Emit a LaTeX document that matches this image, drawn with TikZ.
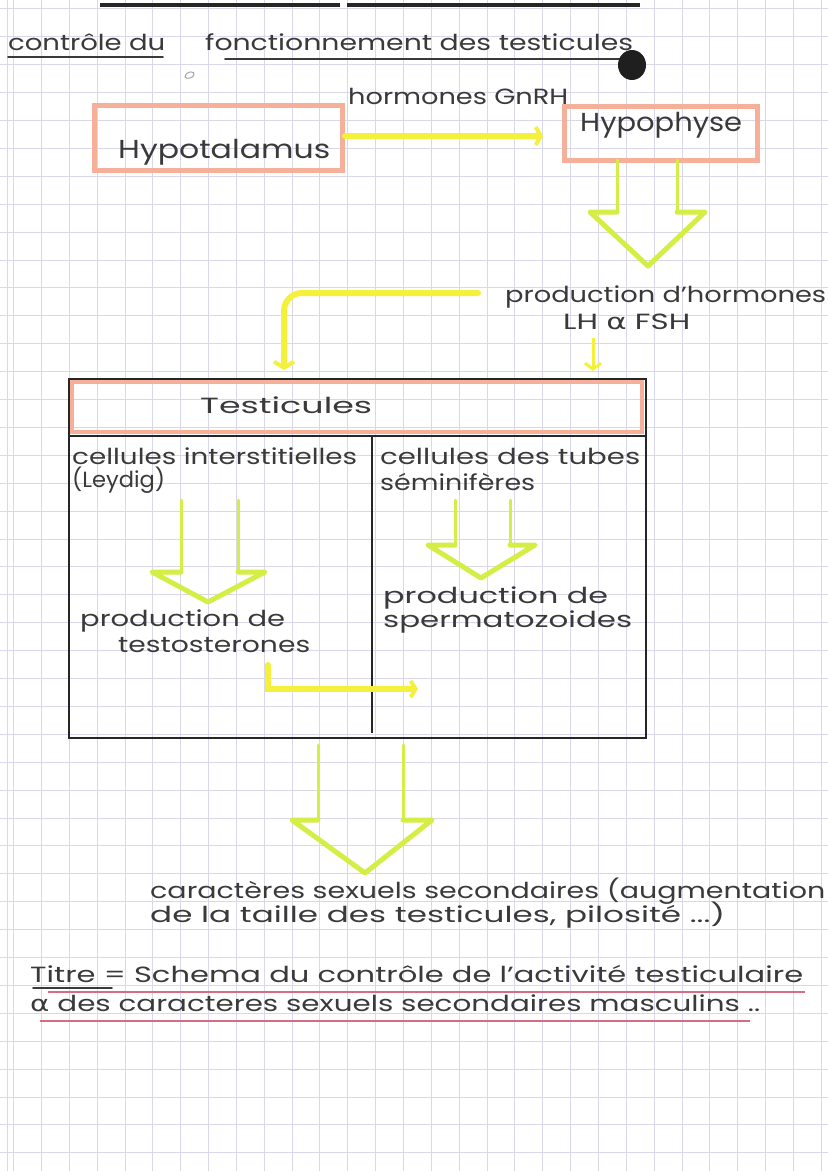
\documentclass[tikz,border=0pt]{standalone}
\usepackage{fontspec}
\usepackage{graphicx}
\setmainfont{Poppins}
\newfontfamily\gk{DejaVu Sans}
\usetikzlibrary{arrows.meta}
\definecolor{ink}{HTML}{3A3A3A}
\definecolor{gridc}{HTML}{D8D8EA}
\definecolor{salmon}{HTML}{F6B09A}
\definecolor{hlyellow}{HTML}{F4F03C}
\definecolor{lime}{HTML}{D5EE45}
\definecolor{pinkline}{HTML}{D96C82}
\newcommand{\hw}[2]{\resizebox{#1pt}{\height}{#2}}
\newcommand{\hollowdown}[8]{%
  \draw[limeline] (#1,#3) -- (#1,#4);
  \draw[limeline] (#2,#3) -- (#2,#4);
  \draw[limehead] (#1,#4) -- (#5,#4) -- (#7,#8) -- (#6,#4) -- (#2,#4);}
\begin{document}
\begin{tikzpicture}[x=1pt,y=-1pt,
  hand/.style={font=\fontsize{22}{26}\selectfont, text=ink, inner sep=0pt, anchor=base west},
  bighand/.style={hand, font=\fontsize{26}{30}\selectfont},
  salmonbox/.style={draw=salmon, line width=5pt, inner sep=0pt, anchor=north west},
  tablebox/.style={draw=black!85, line width=1.8pt, inner sep=0pt, anchor=north west},
  hlarrow/.style={draw=hlyellow, line width=6pt, line cap=round},
  limeline/.style={draw=lime, line width=3pt, line cap=round},
  limehead/.style={draw=lime, line width=5pt, line join=round, line cap=round},
  gridline/.style={draw=gridc, line width=0.8pt},
  inkline/.style={draw=ink, line width=1.8pt, line cap=round}]
\useasboundingbox (0,0) rectangle (828,1171);
\clip (0,0) rectangle (828,1171);
\fill[white] (0,0) rectangle (828,1171);
% grid paper
\foreach \i in {0,...,29} \draw[gridline] (13.5+27.85*\i,0) -- (13.5+27.85*\i,1171);
\draw[gridline] (7,0) -- (7,1171);
\foreach \j in {0,...,41} \draw[gridline] (0,8.8+27.9*\j) -- (828,8.8+27.9*\j);
% top edge bars
\draw[black!85, line width=4pt] (100,5) -- (340,5);
\draw[black!85, line width=4pt] (347,5) -- (640,5);

% heading
\node[hand] (h1) at (8,50) {\hw{157}{contrôle du}};
\node[hand] (h2) at (205,50) {\hw{428}{fonctionnement des testicules}};
\draw[inkline] (8,57) -- (163,57);
\draw[inkline] (225,59) -- (625,59);
\fill[black!88] (632,65) ellipse (14 and 15);
\draw[gray!70, line width=1pt] (185,77) .. controls (186,70) and (196,71) .. (194,75) .. controls (192,79) and (186,79) .. (185,77);

% hypothalamus / hypophyse
\node[salmonbox, minimum width=248pt, minimum height=65pt] (hypobox) at (92,103) {};
\node[bighand] (hypotxt) at (118,158) {\hw{212}{Hypotalamus}};
\node[salmonbox, minimum width=193pt, minimum height=54pt] (hyphbox) at (562,104) {};
\node[bighand] (hyphtxt) at (580,131) {\hw{162}{Hypophyse}};
\node[hand] (gnrh) at (348,104) {\hw{220}{hormones GnRH}};
\coordinate (gA) at (hypobox.east |- 0,136);
\coordinate (gB) at (543,136);
\draw[hlarrow, -{Straight Barb[length=5pt, width=18pt, line width=4pt]}] (gA) -- (gB);

% first hollow arrow
\hollowdown{617}{677}{160}{212}{590}{705}{648}{266}

\node[hand] (prod) at (505,302) {\hw{321}{production d'hormones}};
\node[hand] (lhfsh) at (563,329) {\hw{127}{LH {\gk α} FSH}};
\coordinate (s1) at (593,338);
\coordinate (s2) at (593,371);
\draw[draw=hlyellow, line width=3pt, -{Straight Barb[length=6pt, width=16pt, line width=3pt]}] (s1) -- (s2);
\coordinate (b1) at (478,293);
\coordinate (b2) at (284,370);
\draw[hlarrow, rounded corners=18pt, -{Straight Barb[length=6pt, width=20pt, line width=4pt]}] (b1) -- (284,293) -- (b2);

% testicules table
\node[tablebox, minimum width=577pt, minimum height=302pt] (tbody) at (68,435) {};
\draw[salmon, line width=4pt] ([xshift=3.5pt,yshift=-3.5pt]68,378) rectangle ([xshift=-3.5pt,yshift=3.5pt]645,435);
\node[tablebox, minimum width=577pt, minimum height=57pt] (thead) at (68,378) {};
\node[hand] (testi) at (200,413) {\hw{172}{Testicules}};
\coordinate (dtop) at (372,435);
\coordinate (dbot) at (372,733);
\draw[black!85, line width=1.5pt] (dtop) -- (dbot);

\node[hand] (cl1) at (72,464) {\hw{285}{cellules interstitielles}};
\node[hand] (cl2) at (72,487) {\hw{93}{(Leydig)}};
\node[hand] (cr1) at (380,464) {\hw{260}{cellules des tubes}};
\node[hand] (cr2) at (380,490) {\hw{155}{séminifères}};

\hollowdown{181}{238}{500}{572}{152}{265}{208}{602}
\hollowdown{455}{510}{500}{545}{428}{535}{481}{578}

\node[hand] (pl1) at (80,626) {\hw{205}{production de}};
\node[hand] (pl2) at (118,652) {\hw{192}{testosterones}};
\node[hand] (pr1) at (383,603) {\hw{225}{production de}};
\node[hand] (pr2) at (383,627) {\hw{249}{spermatozoides}};

\coordinate (l1) at (268,665);
\coordinate (l2) at (418,689);
\draw[hlarrow, -{Straight Barb[length=5pt, width=16pt, line width=4pt]}] (l1) -- (268,689) -- (l2);

% bottom hollow arrow
\hollowdown{318}{403}{745}{820}{292}{432}{365}{873}

\node[hand] (car1) at (150,898) {\hw{675}{caractères sexuels secondaires (augmentation}};
\node[hand] (car2) at (150,922) {\hw{575}{de la taille des testicules, pilosité ...)}};

% title
\node[hand] (tit1) at (30,982) {\hw{773}{Titre = Schema du contrôle de l'activité testiculaire}};
\node[hand] (tit2) at (30,1011) {\hw{730}{{\gk α} des caracteres sexuels secondaires masculins ..}};
\draw[inkline] (33,988) -- (112,988);
\draw[pinkline, line width=1.6pt] (48,992) -- (805,992);
\draw[pinkline, line width=1.6pt] (40,1021) -- (750,1021);
\end{tikzpicture}
\end{document}
